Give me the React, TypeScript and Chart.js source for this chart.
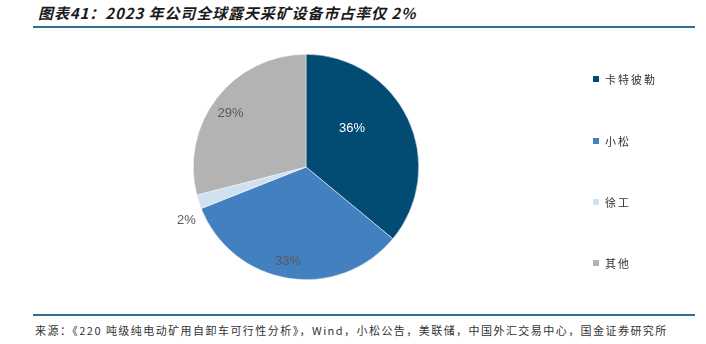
import React, { useEffect, useRef } from "react";
import { Chart, registerables } from "chart.js";

Chart.register(...registerables);

const categories = ["卡特彼勒", "小松", "徐工", "其他"];
const shares = [36, 33, 2, 29];
const colors = ["#024b72", "#4380bf", "#cfe0f1", "#b3b3b3"];
const labelColors = ["#ffffff", "#595959", "#595959", "#595959"];
// label placement: radius fraction and angle shift (deg)
const labelPlace = [
  { r: 0.53, da: -14.5 },
  { r: 0.85, da: 1.8 },
  { r: 1.16, da: -5.9 },
  { r: 0.82, da: -2.6 },
];

const titleText = "图表41：2023 年公司全球露天采矿设备市占率仅 2%";
const sourceText =
  "来源：《220 吨级纯电动矿用自卸车可行性分析》，Wind，小松公告，美联储，中国外汇交易中心，国金证券研究所";

const labelPlugin = {
  id: "sliceLabels",
  afterDatasetsDraw(chart: any) {
    const meta = chart.getDatasetMeta(0);
    const ctx = chart.ctx;
    ctx.save();
    ctx.font = '13px "Liberation Sans", Arial, sans-serif';
    ctx.textAlign = "center";
    ctx.textBaseline = "middle";
    meta.data.forEach((arc: any, i: number) => {
      const p = arc.getProps(["x", "y", "startAngle", "endAngle", "outerRadius"], true);
      const mid = (p.startAngle + p.endAngle) / 2 + (labelPlace[i].da * Math.PI) / 180;
      const rr = p.outerRadius * labelPlace[i].r;
      ctx.fillStyle = labelColors[i];
      ctx.fillText(shares[i] + "%", p.x + Math.cos(mid) * rr, p.y + Math.sin(mid) * rr);
    });
    ctx.restore();
  },
};

export default function App() {
  const ref = useRef<HTMLCanvasElement>(null);
  useEffect(() => {
    if (!ref.current) return;
    const chart = new Chart(ref.current, {
      type: "pie",
      data: {
        labels: categories,
        datasets: [
          {
            data: shares,
            backgroundColor: colors,
            borderColor: "#ffffff",
            borderWidth: 0.5,
          },
        ],
      },
      options: {
        animation: false,
        responsive: false,
        maintainAspectRatio: false,
        layout: { padding: { top: 14, bottom: 14, left: 0, right: 0 } },
        plugins: {
          legend: { display: false },
          tooltip: { enabled: false },
        },
      },
      plugins: [labelPlugin],
    });
    return () => chart.destroy();
  }, []);

  const legendY = [79, 140.5, 201.5, 263];

  return (
    <div
      style={{
        position: "fixed",
        left: 0,
        top: 0,
        width: 706,
        height: 344,
        background: "#ffffff",
        overflow: "hidden",
      }}
    >
      <div
        style={{
          position: "absolute",
          left: 38,
          top: 4,
          font: 'italic bold 15px "Noto Sans CJK SC", sans-serif',
          letterSpacing: "0.9px",
          color: "#1a1a1a",
          whiteSpace: "nowrap",
          lineHeight: "18px",
        }}
      >
        {titleText}
      </div>
      <div
        style={{
          position: "absolute",
          left: 33,
          top: 26,
          width: 662,
          height: 2,
          background: "#2f6f90",
        }}
      />
      <canvas
        ref={ref}
        width={612}
        height={254}
        style={{ position: "absolute", left: 0, top: 40, width: 612, height: 254 }}
      />
      {categories.map((c, i) => (
        <div key={c}>
          <div
            style={{
              position: "absolute",
              left: 593,
              top: legendY[i] - 3,
              width: 6,
              height: 6,
              background: colors[i],
            }}
          />
          <div
            style={{
              position: "absolute",
              left: 605,
              top: legendY[i] - 8,
              font: '11px "Noto Sans CJK SC", sans-serif',
              letterSpacing: "2px",
              color: "#333333",
              lineHeight: "16px",
              whiteSpace: "nowrap",
            }}
          >
            {c}
          </div>
        </div>
      ))}
      <div
        style={{
          position: "absolute",
          left: 33,
          top: 314,
          width: 662,
          height: 2,
          background: "#2f6f90",
        }}
      />
      <div
        style={{
          position: "absolute",
          left: 35,
          top: 322,
          font: '11px "Noto Sans CJK SC", sans-serif',
          letterSpacing: "1.45px",
          color: "#333333",
          lineHeight: "16px",
          whiteSpace: "nowrap",
        }}
      >
        {sourceText}
      </div>
    </div>
  );
}
